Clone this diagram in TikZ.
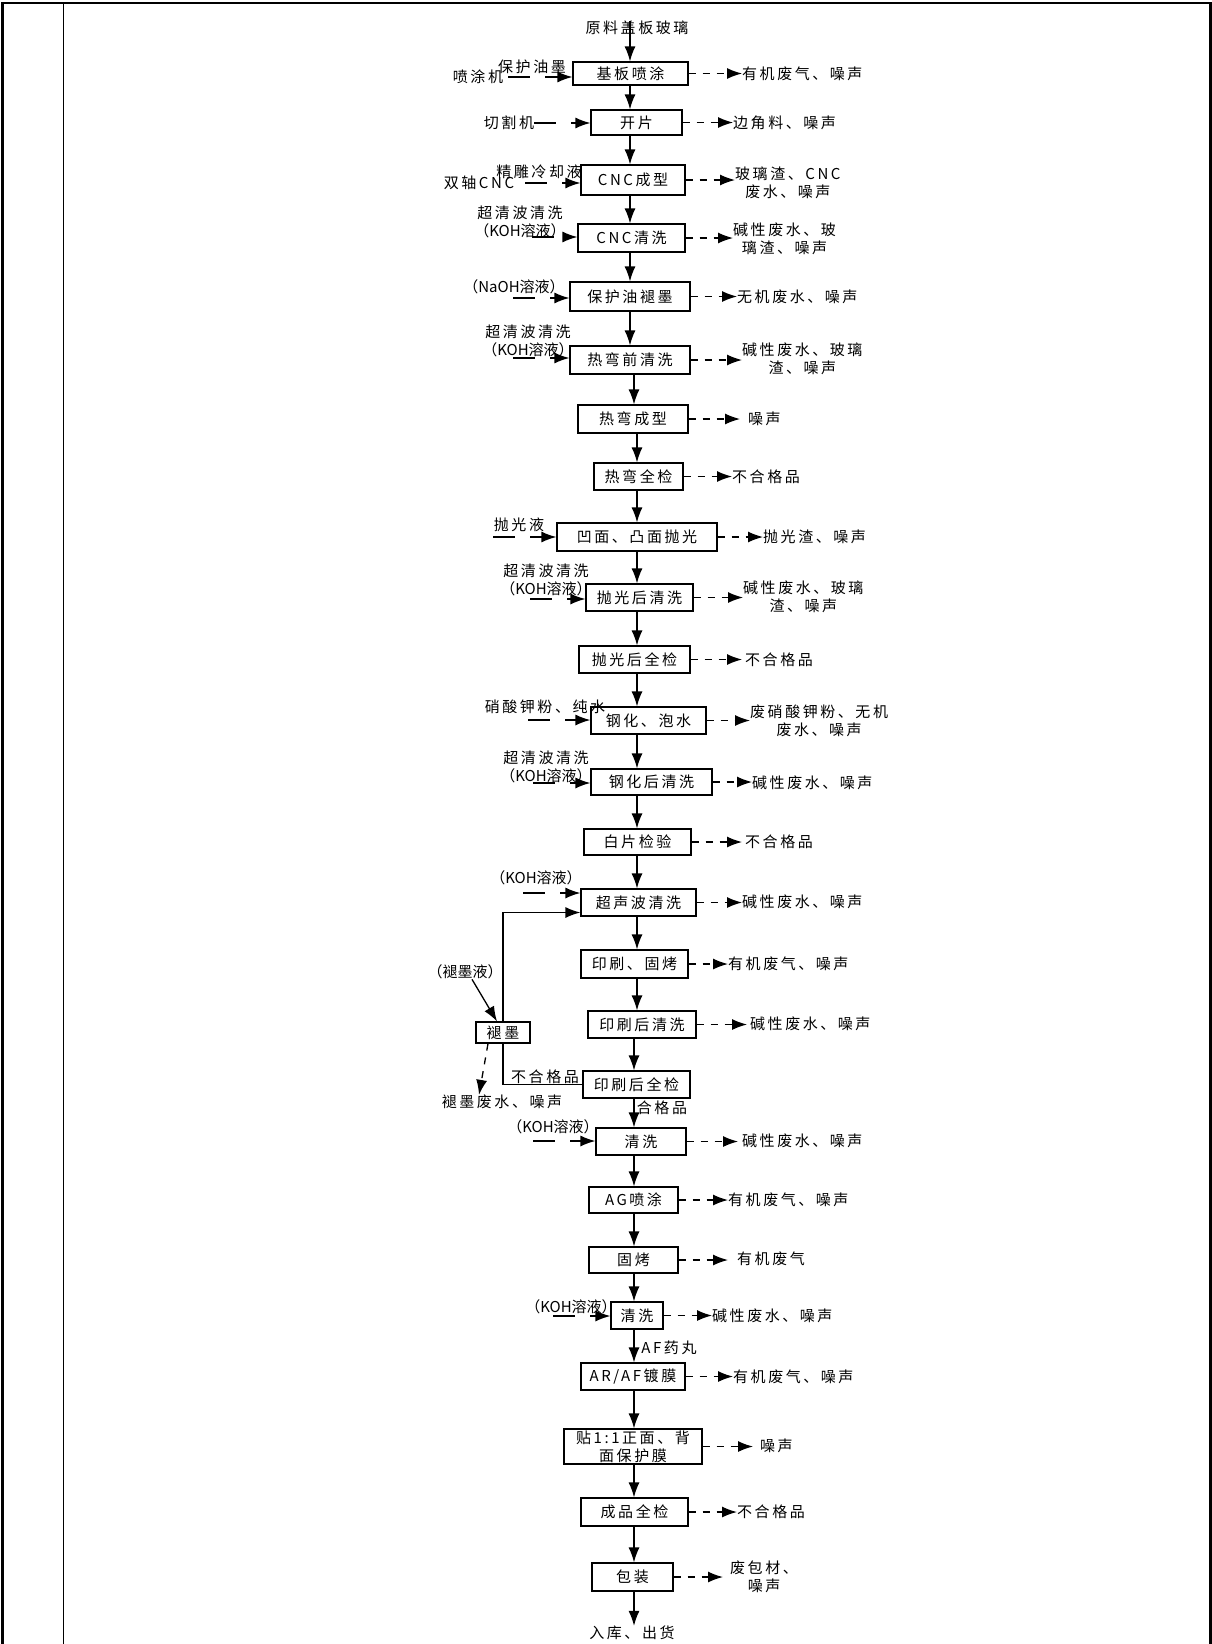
\documentclass[tikz,border=0pt]{standalone}
\usepackage{fontspec}
\setmainfont{Noto Sans CJK SC}[LetterSpace=17]
\newfontfamily\tightfont{Noto Sans CJK SC}
\usetikzlibrary{arrows.meta}

\begin{document}
\begin{tikzpicture}[x=1pt,y=-1pt,font=\fontsize{15pt}{18pt}\selectfont,
  proc/.style={draw,line width=1.2pt,inner sep=0pt,align=center},
  lbl/.style={inner sep=0pt,align=center},
  tight/.style={font=\fontsize{15pt}{18pt}\tightfont},
  flow/.style={-{Latex[length=15pt,width=11pt]},line width=1.3pt},
  outflow/.style={flow,dash pattern=on 7pt off 7pt},
  inflow/.style={flow,dash pattern=on 22pt off 15pt}]
  \useasboundingbox (0,0) rectangle (1212,1644);
  % frame
  \draw[line width=2.7pt] (2.5,1644) -- (2.5,3) -- (1210.7,3) -- (1210.7,1644);
  \draw[line width=1.4pt] (63.3,3) -- (63.3,1644);
  % main column
  \coordinate (axA) at (630,0);
  \coordinate (axB) at (637,0);
  \coordinate (axC) at (634,0);
  \node[lbl] (src) at (637,28) {原料盖板玻璃};
  \node[proc,minimum width=115pt,minimum height=23pt] (p1) at (630.5,73.5) {基板喷涂};
  \node[proc,minimum width=91pt,minimum height=25pt] (p2) at (636.5,122.5) {开片};
  \node[proc,minimum width=104pt,minimum height=30pt] (p3) at (633,180) {CNC成型};
  \node[proc,minimum width=107pt,minimum height=28pt] (p4) at (631.5,238) {CNC清洗};
  \node[proc,minimum width=120pt,minimum height=29pt] (p5) at (630,296.5) {保护油褪墨};
  \node[proc,minimum width=120pt,minimum height=28pt] (p6) at (630,360) {热弯前清洗};
  \node[proc,minimum width=110pt,minimum height=28pt] (p7) at (633,419) {热弯成型};
  \node[proc,minimum width=89pt,minimum height=27pt] (p8) at (638.5,476.5) {热弯全检};
  \node[proc,minimum width=160pt,minimum height=28pt] (p9) at (637,537) {凹面、凸面抛光};
  \node[proc,minimum width=107pt,minimum height=27pt] (p10) at (639.5,597.5) {抛光后清洗};
  \node[proc,minimum width=111pt,minimum height=27pt] (p11) at (634.5,659.5) {抛光后全检};
  \node[proc,minimum width=115pt,minimum height=27pt] (p12) at (648.5,720.5) {钢化、泡水};
  \node[proc,minimum width=121pt,minimum height=26pt] (p13) at (651.5,782) {钢化后清洗};
  \node[proc,minimum width=107pt,minimum height=26pt] (p14) at (637.5,842) {白片检验};
  \node[proc,minimum width=115pt,minimum height=27pt] (p15) at (638.5,902.5) {超声波清洗};
  \node[proc,minimum width=107pt,minimum height=28pt] (p16) at (634.5,964) {印刷、固烤};
  \node[proc,minimum width=108pt,minimum height=27pt] (p17) at (642,1024.5) {印刷后清洗};
  \node[proc,minimum width=107pt,minimum height=27pt] (p18) at (636.5,1084.5) {印刷后全检};
  \node[proc,minimum width=90pt,minimum height=27pt] (p19) at (641,1141.5) {清洗};
  \node[proc,minimum width=89pt,minimum height=26pt] (p20) at (633.5,1200) {AG喷涂};
  \node[proc,minimum width=89pt,minimum height=26pt] (p21) at (633.5,1260) {固烤};
  \node[proc,minimum width=52pt,minimum height=27pt] (p22) at (637,1315.5) {清洗};
  \node[proc,minimum width=104pt,minimum height=27pt] (p23) at (633,1376.5) {AR/AF镀膜};
  \node[proc,minimum width=138pt,minimum height=35pt] (p24) at (633,1446.5) {贴1:1正面、背\\面保护膜};
  \node[proc,minimum width=107pt,minimum height=28pt] (p25) at (634.5,1512) {成品全检};
  \node[proc,minimum width=81pt,minimum height=28pt] (p26) at (632.5,1577) {包装};
  \node[lbl] (fin) at (632,1633) {入库、出货};
  \draw[flow] (src.north -| axA) -- (p1.north -| axA);
  \foreach \a/\b/\c in {p1/p2/axA,p2/p3/axA,p3/p4/axA,p4/p5/axA,p5/p6/axA,p6/p7/axC,
      p7/p8/axB,p8/p9/axB,p9/p10/axB,p10/p11/axB,p11/p12/axB,p12/p13/axB,p13/p14/axB,
      p14/p15/axB,p15/p16/axB,p16/p17/axB,p17/p18/axC,p18/p19/axC,p19/p20/axC,
      p20/p21/axC,p21/p22/axC,p22/p23/axC,p23/p24/axC,p24/p25/axC,p25/p26/axC,p26/fin/axC}
    \draw[flow] (\a.south -| \c) -- (\b.north -| \c);
  \node[lbl] at (662,1108) {合格品};
  \node[lbl] at (669,1348) {AF药丸};
  % inputs (left)
  \node[lbl] (m1) at (478,77) {喷涂机};
  \node[lbl] at (532,67) {保护油墨};
  \node[lbl] (m2) at (509,123) {切割机};
  \node[lbl] at (539,172) {精雕冷却液};
  \node[lbl] (m3) at (479,183) {双轴CNC};
  \node[lbl] at (520,222) {超清波清洗\\{\tightfont （KOH溶液）}};
  \node[lbl,tight] at (514,287) {（NaOH溶液）};
  \node[lbl] at (528,340.5) {超清波清洗\\{\tightfont （KOH溶液）}};
  \node[lbl] at (519,525) {抛光液};
  \node[lbl] at (546,580) {超清波清洗\\{\tightfont （KOH溶液）}};
  \node[lbl] at (545,707) {硝酸钾粉、纯水};
  \node[lbl] at (546,766.5) {超清波清洗\\{\tightfont （KOH溶液）}};
  \node[lbl,tight] at (536,878) {（KOH溶液）};
  \node[lbl,tight] at (553,1127) {（KOH溶液）};
  \node[lbl,tight] at (571,1307) {（KOH溶液）};
  \coordinate (s3) at (525,183);
  \coordinate (s4) at (532,237);
  \coordinate (s5) at (513,298);
  \coordinate (s6) at (513,358);
  \coordinate (s7) at (493,537);
  \coordinate (s8) at (530,599);
  \coordinate (s9) at (528,720);
  \coordinate (s10) at (533,783);
  \coordinate (s11) at (523,893);
  \coordinate (s12) at (533,1141);
  \coordinate (s13) at (553,1316);
  \draw[inflow] ([xshift=5pt]m1.east) -- (m1.east -| p1.west);
  \draw[inflow] (m2.east) -- (m2.east -| p2.west);
  \foreach \s/\p in {s3/p3,s4/p4,s5/p5,s6/p6,s7/p9,s8/p10,s9/p12,s10/p13,s11/p15,s12/p19,s13/p22}
    \draw[inflow] (\s) -- (\s -| \p.west);
  % outputs (right)
  \node[lbl,anchor=west] (o1) at (742,74) {有机废气、噪声};
  \node[lbl,anchor=west] (o2) at (733,122.5) {边角料、噪声};
  \node[lbl,anchor=west] (o3) at (735,183) {玻璃渣、CNC\\废水、噪声};
  \node[lbl,anchor=west] (o4) at (733,238.5) {碱性废水、玻\\璃渣、噪声};
  \node[lbl,anchor=west] (o5) at (737,297) {无机废水、噪声};
  \node[lbl,anchor=west] (o6) at (742,359) {碱性废水、玻璃\\渣、噪声};
  \node[lbl,anchor=west] (o7) at (748,419) {噪声};
  \node[lbl,anchor=west] (o8) at (732,477) {不合格品};
  \node[lbl,anchor=west] (o9) at (763,537) {抛光渣、噪声};
  \node[lbl,anchor=west] (o10) at (743,596.5) {碱性废水、玻璃\\渣、噪声};
  \node[lbl,anchor=west] (o11) at (745,660) {不合格品};
  \node[lbl,anchor=west] (o12) at (750,721) {废硝酸钾粉、无机\\废水、噪声};
  \node[lbl,anchor=west] (o13) at (752,783) {碱性废水、噪声};
  \node[lbl,anchor=west] (o14) at (745,842) {不合格品};
  \node[lbl,anchor=west] (o15) at (742,902) {碱性废水、噪声};
  \node[lbl,anchor=west] (o16) at (728,964) {有机废气、噪声};
  \node[lbl,anchor=west] (o17) at (750,1024) {碱性废水、噪声};
  \node[lbl,anchor=west] (o19) at (742,1141) {碱性废水、噪声};
  \node[lbl,anchor=west] (o20) at (728,1200) {有机废气、噪声};
  \node[lbl,anchor=west] (o21) at (737,1259) {有机废气};
  \node[lbl,anchor=west] (o22) at (712,1316) {碱性废水、噪声};
  \node[lbl,anchor=west] (o23) at (733,1377) {有机废气、噪声};
  \node[lbl,anchor=west] (o24) at (760,1446) {噪声};
  \node[lbl,anchor=west] (o25) at (737,1512) {不合格品};
  \node[lbl,anchor=west] (o26) at (730,1576.5) {废包材、\\噪声};
  \foreach \p/\o/\g in {p1/o1/0,p2/o2/0,p3/o3/0,p4/o4/0,p5/o5/0,p6/o6/0,p7/o7/8,p8/o8/0,
      p9/o9/0,p10/o10/0,p11/o11/3,p12/o12/0,p13/o13/0,p14/o14/3,p15/o15/0,p16/o16/0,
      p17/o17/3,p19/o19/4,p20/o20/0,p21/o21/9,p22/o22/0,p23/o23/0,p24/o24/7,p25/o25/0,p26/o26/7}
    \draw[outflow,shorten >=\g pt] (\p.east) -- (\p.east -| \o.west);
  % ink removal loop
  \node[proc,minimum width=54pt,minimum height=21pt] (ink) at (503,1032.5) {褪墨};
  \node[lbl,tight] (inkin) at (465,972) {（褪墨液）};
  \node[lbl] (inkout) at (502,1102) {褪墨废水、噪声};
  \node[lbl] at (545,1077) {不合格品};
  \draw[flow] ([xshift=7pt]inkin.south) -- ([xshift=-6pt]ink.north);
  \draw[line width=1.3pt] (p18.west) -| (ink.south);
  \draw[flow] (ink.north) |- ([yshift=-10pt]p15.west);
  \draw[outflow] ([xshift=-15pt]ink.south) -- ([xshift=-23pt]inkout.north);
\end{tikzpicture}
\end{document}
